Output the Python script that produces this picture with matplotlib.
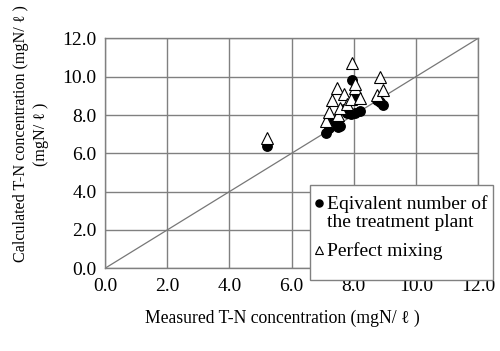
import numpy as np
import matplotlib
matplotlib.use('Agg')
import matplotlib.pyplot as plt
from matplotlib.patches import Rectangle
from matplotlib.legend_handler import HandlerLine2D

plt.rcParams.update({
    'font.family': ['Liberation Serif', 'DejaVu Serif'],
    'font.size': 12,
})

# measured T-N and the two calculated series (mgN/l)
measured = [5.2, 7.1, 7.2, 7.3, 7.45, 7.5, 7.55, 7.7, 7.8, 7.9, 7.95, 8.05, 8.05, 8.2, 8.75, 8.85, 8.95]
calc_equiv = [6.4, 7.05, 7.3, 7.6, 7.75, 7.4, 7.45, 8.3, 8.1, 8.05, 9.85, 8.1, 8.95, 8.2, 8.8, 8.7, 8.5]
calc_mixing = [6.8, 7.7, 8.15, 8.8, 9.4, 8.0, 8.35, 9.1, 8.6, 8.85, 10.7, 9.4, 9.6, 8.9, 9.05, 10.0, 9.3]
ticks = [0, 2, 4, 6, 8, 10, 12]


class TopLineHandler(HandlerLine2D):
    # put the marker next to the first line of a two-line label
    def create_artists(self, legend, orig_handle, xdescent, ydescent, width, height,
                       fontsize, trans):
        return super().create_artists(legend, orig_handle, xdescent, ydescent - fontsize,
                                      width, height, fontsize, trans)


fig = plt.figure(figsize=(5.0, 3.51), dpi=100)
ax = fig.add_axes([0.21, 0.2356, 0.746, 0.655])

ax.plot([0, 12], [0, 12], color='#777777', lw=0.9, zorder=2)
eq_line, = ax.plot(measured, calc_equiv, 'o', color='black', markersize=6.8, zorder=3,
                   label='Eqivalent number of\nthe treatment plant')
ax.plot(measured, calc_mixing, '^', mfc='white', mec='black', mew=0.8, markersize=8.5,
        zorder=4, label='Perfect mixing')

ax.set_xlim(0, 12)
ax.set_ylim(0, 12)
ax.set_xticks(ticks)
ax.set_yticks(ticks)
ax.set_xticklabels([f'{t:.1f}' for t in ticks])
ax.set_yticklabels([f'{t:.1f}' for t in ticks])
ax.tick_params(length=0, labelsize=14)
ax.tick_params(axis='y', pad=6)
ax.tick_params(axis='x', pad=7)
ax.grid(True, color='#808080', lw=1.0)
ax.set_axisbelow(True)
for s in ax.spines.values():
    s.set_color('#808080')
    s.set_linewidth(1.0)

fig.text(0.564, (351 - 318) / 351, 'Measured T-N concentration (mgN/ \u2113 )',
         ha='center', va='center', fontsize=12.7)
fig.text(0.062, (351 - 134) / 351,
         'Calculated T-N concentration (mgN/ \u2113 )\n(mgN/ \u2113 )',
         ha='center', va='center', rotation=90, fontsize=11.6,
         linespacing=1.4, multialignment='center')

# legend box (larger than the entries, overhangs the axes)
box = Rectangle((0.62, 0.2023), 0.366, 0.2707, transform=fig.transFigure,
                facecolor='white', edgecolor='#808080', lw=1.0, zorder=8, clip_on=False)
ax.add_patch(box)
leg = ax.legend(loc='upper left', bbox_to_anchor=(0.606, 0.477),
                bbox_transform=fig.transFigure, fontsize=14, frameon=False,
                handlelength=0.4, handletextpad=0.25, borderpad=0.1,
                labelspacing=0.6, markerscale=0.75,
                handler_map={eq_line: TopLineHandler()})
for t in leg.get_texts():
    t.set_linespacing(1.05)
leg.set_zorder(10)

plt.savefig('out.png', dpi=100)
